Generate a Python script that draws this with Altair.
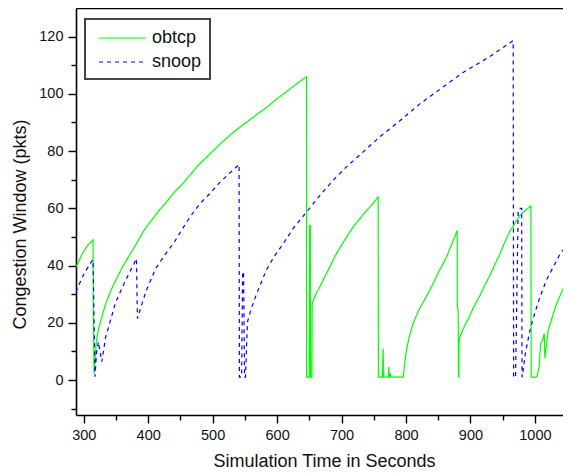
import altair as alt
import pandas as pd

# ---- data ----
series_names = ["obtcp", "snoop"]
series_colors = ["#00FF00", "#0000FF"]

obtcp_t = [288, 298, 305.7, 314.5, 314.8, 316, 319.7, 323.8, 334, 344.5, 360, 375.6, 393.6,
           405, 416, 428, 440, 455, 468, 480, 494, 506, 519, 532, 545, 558, 571, 584, 600,
           620, 632, 645.6, 645.8, 650, 650.5, 651.5, 652, 654,
           654.4, 660, 666, 675, 692, 705, 718, 737, 748, 756.8, 757.2, 763.5, 764.5, 765.5,
           772.5, 773.4, 774.3, 776, 777, 795.6, 797.5, 800.7, 805, 811, 820, 837, 850, 863,
           870, 879.4, 879.6, 881, 881.5, 882, 882.3, 883.6, 890, 898, 905, 914.6, 922, 930,
           945.6, 953, 961.2, 976.7, 985, 993.8, 994.2, 1002.6, 1006.7,
           1008.8, 1012, 1014.5, 1015.5, 1020.7, 1027, 1033.6, 1044, 1055]
obtcp_v = [39.5, 44.2, 47, 49, 25, 2.3, 14, 18.6, 26.7, 32.5, 39.5, 45.3, 52.3,
           55.8, 59, 62.2, 65.5, 69, 72.5, 75.6, 78.6, 81.3, 84, 86.6, 88.8, 91, 93.2, 95.3, 98.3,
           101.7, 103.8, 106, 1, 1, 54, 54, 1, 1,
           26.7, 30, 32.5, 36.5, 44.2, 49, 53.5, 58.8, 61.5, 64, 1, 1, 11, 1,
           1, 4.6, 1, 2, 1, 1, 5, 10.5, 15, 19.8, 24.5, 31.4, 37.5, 43,
           47, 52.3, 26, 24, 1, 1, 13.4, 15, 18.5, 22, 25.5, 29.5, 33, 36.5,
           44, 48, 52, 57.5, 59.3, 60.8, 1, 1, 4.6,
           12.8, 14, 16.3, 7.6, 17.4, 22, 26.7, 32, 37]

snoop_t = [287.6, 300.5, 313.5, 314.5, 317.5, 320, 322.8, 324.5, 328, 334, 349.7, 365, 381.8,
           383.3, 396.2, 404, 411.7, 427.3, 440, 451.6, 465, 480, 495, 510, 525, 541, 541.5,
           545, 546.5, 548, 549.5, 551, 554, 560, 568, 583.5, 595, 609, 625, 645.6, 670, 692,
           707.6, 735, 759.4, 790, 821.5, 855, 888.7, 930, 966.3, 967, 970, 974, 977, 979.5,
           980, 981.8, 985, 992.2, 1000, 1007.8, 1018, 1028.4, 1040, 1054.3]
snoop_v = [30.8, 37.2, 41.9, 42, 1.2, 10, 13.4, 11, 6.4, 15, 27.3, 34.9, 42.4,
           21.5, 30.8, 35, 39, 44.2, 48, 52.3, 57, 61.6, 65, 68.8, 72, 75.3, 1,
           1, 37.8, 37.8, 1, 1, 20.3, 25, 30, 38.5, 43, 47.5, 53, 58.7, 65.5, 71,
           74.5, 80, 85, 90.5, 96.5, 102, 107.5, 113, 118.6, 1, 1, 59.3, 60, 60,
           1, 3.5, 9, 17.4, 23.5, 29, 35, 39.5, 44.5, 48.2]

x_ticks = list(range(300, 1051, 50))
y_ticks = list(range(-10, 121, 10))
x_domain = [288, 1043.6]
y_domain = [-12.2, 130]

rows = []
for name, ts, vs in [("obtcp", obtcp_t, obtcp_v), ("snoop", snoop_t, snoop_v)]:
    for i, (t, v) in enumerate(zip(ts, vs)):
        rows.append({"series": name, "t": t, "v": v, "i": i})
df = pd.DataFrame(rows)

FONT = "Liberation Sans"

x_axis = alt.Axis(
    orient="bottom",
    values=x_ticks,
    format="d",
    tickSize={"condition": {"test": "datum.value % 100 === 0", "value": 8}, "value": 5},
    labelExpr="datum.value % 100 === 0 ? datum.label : ''",
    labelPadding=5,
    title="Simulation Time in Seconds",
    titleX=248,
    titleY=51,
    titleBaseline="alphabetic",
)
y_axis = alt.Axis(
    orient="left",
    values=y_ticks,
    format="d",
    tickSize={"condition": {"test": "datum.value % 20 === 0", "value": 8}, "value": 5},
    labelExpr="datum.value % 20 === 0 ? datum.label : ''",
    labelPadding=5,
    title="Congestion Window (pkts)",
    titleX=-51,
    titleY=216,
    titleBaseline="alphabetic",
)

legend = alt.Legend(title=None, orient="none", legendX=9, legendY=11)

lines = alt.Chart(df).mark_line(strokeWidth=1.2, clip=True).encode(
    x=alt.X("t:Q", scale=alt.Scale(domain=x_domain, nice=False, zero=False), axis=x_axis),
    y=alt.Y("v:Q", scale=alt.Scale(domain=y_domain, nice=False, zero=False), axis=y_axis),
    color=alt.Color(
        "series:N",
        scale=alt.Scale(domain=series_names, range=series_colors),
        legend=legend,
    ),
    strokeDash=alt.StrokeDash(
        "series:N",
        scale=alt.Scale(domain=series_names, range=[[1, 0], [4, 4]]),
        legend=legend,
    ),
    order="i:Q",
)

top_frame = alt.Chart(df).mark_point(opacity=0).encode(
    x=alt.X("t:Q", scale=alt.Scale(domain=x_domain, nice=False, zero=False),
            axis=alt.Axis(orient="top", labels=False, ticks=False, title=None, domain=True)),
)

chart = alt.layer(lines, top_frame).resolve_axis(x="independent").properties(
    width=487,
    height=407,
    padding={"left": 68, "top": 0, "right": 0, "bottom": 56},
    autosize="none",
).configure_view(stroke=None).configure_axis(
    grid=False,
    domainColor="#000",
    domainWidth=1.6,
    tickColor="#000",
    tickWidth=1.4,
    labelFont=FONT,
    labelFontSize=14.5,
    labelColor="#111",
    titleFont=FONT,
    titleFontSize=18,
    titleFontWeight="normal",
    titleColor="#111",
).configure_legend(
    symbolType="M-2.35,0H2.35",
    symbolSize=400,
    symbolStrokeWidth=1.2,
    symbolOffset=18.5,
    labelFont=FONT,
    labelFontSize=18,
    labelColor="#111",
    labelOffset=18.5,
    padding=8,
    rowPadding=4,
    strokeColor="#444",
    strokeWidth=2,
    fillColor="#fff",
)

chart.save("out.html", embed_options={"renderer": "svg", "actions": False})
